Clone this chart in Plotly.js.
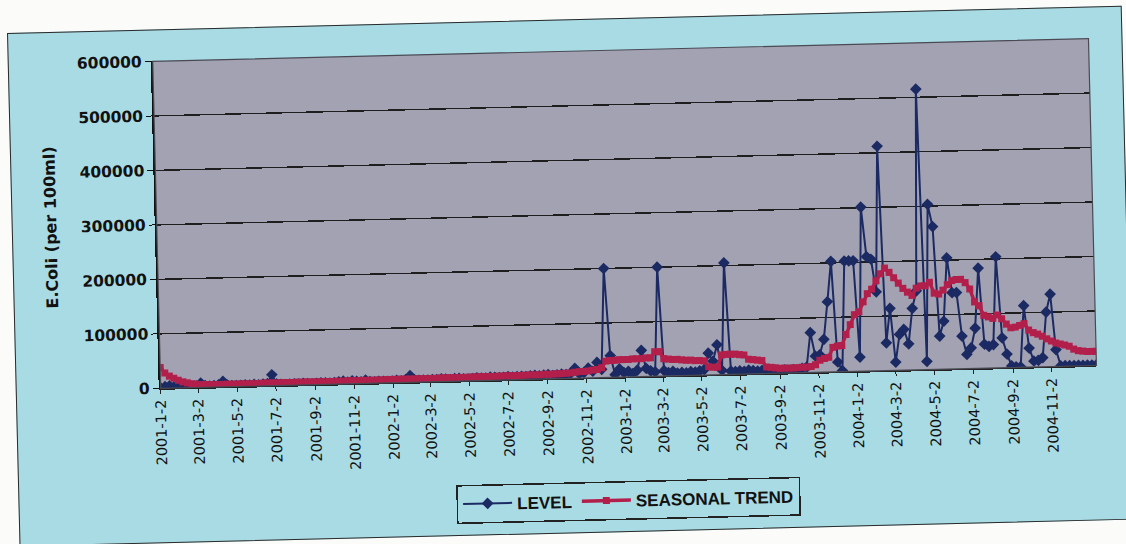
<!DOCTYPE html>
<html>
<head>
<meta charset="utf-8">
<script src="https://cdn.plot.ly/plotly-3.0.1.min.js"></script>
<style>
  html, body { margin: 0; padding: 0; background: #fbfbf9; width: 1126px; height: 544px; overflow: hidden; }
  #frame {
    position: absolute; left: 7px; top: 33px;
    width: 1115px; height: 514px;
    box-sizing: border-box;
    border: 1.5px solid #2a2a2a;
    background: #a9dbe4;
    transform-origin: 0 0;
    transform: rotate(-1.4deg);
  }
  #chart { position: absolute; left: -1.5px; top: -1.5px; width: 1115px; height: 514px; }
</style>
</head>
<body>
<div id="frame"><div id="chart"></div></div>
<script>
// ---- data (weekly samples, first sample 2001-01-02) ----
const startDate = '2001-01-02';
const stepDays = 7;

const levelValues = [
  1000, 3000, 4000, 2000, 3000, 2000, 1500, 2000, 3000, 8000,
  3000, 2000, 2500, 4000, 10000, 3000, 2000, 1500, 2000, 2500,
  2000, 3000, 2000, 3000, 4000, 20000, 3000, 2000, 1500, 2000,
  2500, 2000, 3000, 2000, 1500, 2000, 3000, 2500, 2000, 3000,
  4000, 5000, 3000, 5000, 4000, 3000, 6000, 3000, 2500, 3000,
  3000, 2500, 3000, 4000, 3000, 5000, 12000, 4000, 3000, 3500,
  3000, 4000, 3500, 5000, 4000, 3000, 4500, 5000, 4000, 3500,
  4000, 5000, 4500, 4000, 6000, 5000, 4500, 5000, 6000, 5000,
  5500, 6000, 5000, 6500, 7000, 6000, 7000, 8000, 6000, 7000,
  8000, 7000, 9000, 18000, 8000, 10000, 18000, 12000, 28000, 15000,
  200000, 40000, 5000, 15000, 8000, 10000, 6000, 12000, 48000, 15000,
  10000, 8000, 200000, 10000, 6000, 8000, 5000, 6000, 5000, 7000,
  6000, 8000, 10000, 40000, 25000, 55000, 8000, 205000, 6000, 5000,
  6000, 5000, 7000, 6000, 5000, 6000, 7000, 5000, 6000, 5000,
  6000, 5000, 6000, 5000, 8000, 10000, 73000, 30000, 32000, 60000,
  129000, 203000, 18000, 2000, 203000, 203000, 203000, 26000, 301000, 210000,
  205000, 145000, 412000, 51000, 114000, 15000, 66000, 75000, 48000, 113000,
  145000, 515000, 15000, 303000, 262000, 61000, 88000, 204000, 140000, 140000,
  60000, 26000, 38000, 74000, 184000, 44000, 40000, 43000, 204000, 55000,
  25000, 3000, 1000, 1000, 113000, 35000, 11000, 12000, 17000, 100000,
  133000, 31000, 1000, 1000, 1000, 1000, 1000, 1000, 1000, 1000, 1000
];

const trendValues = [
  38000, 28000, 22000, 18000, 14000, 11000, 9000, 7000, 6000, 5000,
  5000, 4500, 4500, 4500, 4500, 4500, 4500, 4500, 4500, 4500,
  4500, 4500, 4500, 5000, 5000, 5000, 5000, 5000, 5000, 5000,
  5000, 5000, 5000, 5000, 5000, 5000, 5000, 5000, 5000, 5000,
  5000, 5000, 5500, 5500, 5500, 5500, 5500, 5500, 5500, 5500,
  5500, 6000, 6000, 6000, 6000, 6000, 6000, 6000, 6000, 6000,
  6000, 6000, 6000, 6500, 6500, 6500, 6500, 6500, 6500, 6500,
  7000, 7000, 7000, 7000, 7000, 7000, 7000, 7500, 7500, 7500,
  7500, 7500, 8000, 8000, 8000, 8000, 8500, 8500, 8500, 9000,
  9000, 9500, 10000, 11000, 12000, 12000, 13000, 14000, 15000, 18000,
  30000, 31000, 31000, 32000, 32000, 32000, 33000, 33000, 33000, 34000,
  34000, 45000, 45000, 32000, 31000, 30000, 30000, 29000, 28000, 28000,
  27000, 27000, 26000, 15000, 14000, 14000, 36000, 37000, 37000, 37000,
  36000, 35000, 27000, 26000, 25000, 24000, 12000, 11000, 10000, 9000,
  9000, 9000, 9000, 9500, 10000, 10000, 11000, 14000, 22000, 25000,
  27000, 45000, 47000, 48000, 68000, 86000, 104000, 109000, 127000, 142000,
  150000, 165000, 178000, 188000, 180000, 170000, 160000, 150000, 143000, 137000,
  150000, 154000, 154000, 160000, 140000, 138000, 145000, 155000, 162000, 164000,
  164000, 158000, 146000, 122000, 115000, 97000, 94000, 91000, 97000, 90000,
  80000, 73000, 74000, 77000, 80000, 68000, 63000, 60000, 56000, 51000,
  47000, 43000, 41000, 39000, 36500, 31000, 28000, 27000, 26000, 26000, 26000
];

const seriesNames = ['LEVEL', 'SEASONAL TREND'];
const tickLabels = [
  '2001-1-2','2001-3-2','2001-5-2','2001-7-2','2001-9-2','2001-11-2',
  '2002-1-2','2002-3-2','2002-5-2','2002-7-2','2002-9-2','2002-11-2',
  '2003-1-2','2003-3-2','2003-5-2','2003-7-2','2003-9-2','2003-11-2',
  '2004-1-2','2004-3-2','2004-5-2','2004-7-2','2004-9-2','2004-11-2'
];
const yTicks = [0, 100000, 200000, 300000, 400000, 500000, 600000];

// ---- build ----
function pad(n){ return (n < 10 ? '0' : '') + n; }
function isoFromLabel(s){ const p = s.split('-'); return p[0] + '-' + pad(+p[1]) + '-' + pad(+p[2]); }
const t0 = Date.parse(startDate + 'T00:00:00Z');
const dates = levelValues.map(function(_, i){
  const d = new Date(t0 + i * stepDays * 86400000);
  return d.getUTCFullYear() + '-' + pad(d.getUTCMonth() + 1) + '-' + pad(d.getUTCDate());
});

const font = 'DejaVu Sans, sans-serif';
const arial = 'Liberation Sans, Arial, sans-serif';
const traces = [
  {
    x: dates, y: levelValues, name: seriesNames[0], type: 'scatter', mode: 'lines+markers',
    line: { color: '#1b2a63', width: 2 },
    marker: { symbol: 'diamond', size: 9, color: '#1b2a63' }
  },
  {
    x: dates, y: trendValues, name: seriesNames[1], type: 'scatter', mode: 'lines+markers',
    line: { color: '#b21f4b', width: 3.5 },
    marker: { symbol: 'square', size: 7, color: '#b21f4b' }
  }
];

const layout = {
  width: 1115, height: 514,
  margin: { l: 145, r: 34, t: 32, b: 148 },
  paper_bgcolor: 'rgba(0,0,0,0)',
  plot_bgcolor: '#a3a2b2',
  showlegend: true,
  legend: {
    orientation: 'h', x: 0.313, y: -0.318, xanchor: 'left', yanchor: 'top',
    bgcolor: '#a9dbe4', bordercolor: '#222', borderwidth: 1.5,
    font: { family: arial, size: 17, color: '#111', weight: 'bold' },
    itemwidth: 49
  },
  xaxis: {
    type: 'date',
    range: [dates[0], dates[dates.length - 1]],
    tickmode: 'array',
    tickvals: tickLabels.map(isoFromLabel),
    ticktext: tickLabels,
    tickangle: -90,
    tickfont: { family: font, size: 14.5, color: '#111' },
    showgrid: false, zeroline: false,
    showline: true, linecolor: '#222', linewidth: 1.5, mirror: false,
    ticks: 'outside', ticklen: 4, tickcolor: '#222',
    fixedrange: true
  },
  yaxis: {
    range: [0, 600000],
    tickmode: 'array', tickvals: yTicks, ticktext: yTicks.map(String),
    tickfont: { family: font, size: 15.5, color: '#111', weight: 'bold' },
    showgrid: true, gridcolor: '#1e1e1e', gridwidth: 1.4,
    zeroline: false,
    showline: true, linecolor: '#111', linewidth: 2,
    ticks: 'outside', ticklen: 6, tickcolor: '#111',
    title: { text: 'E.Coli (per 100ml)', font: { family: font, size: 16, color: '#111', weight: 'bold' }, standoff: 20 },
    fixedrange: true
  },
  shapes: [
    { type: 'rect', xref: 'paper', yref: 'paper', x0: 0, x1: 1, y0: 0, y1: 1,
      line: { color: '#4a4a55', width: 1.2 }, fillcolor: 'rgba(0,0,0,0)', layer: 'above' }
  ]
};

Plotly.newPlot('chart', traces, layout, { staticPlot: true, displayModeBar: false });
</script>
</body>
</html>
